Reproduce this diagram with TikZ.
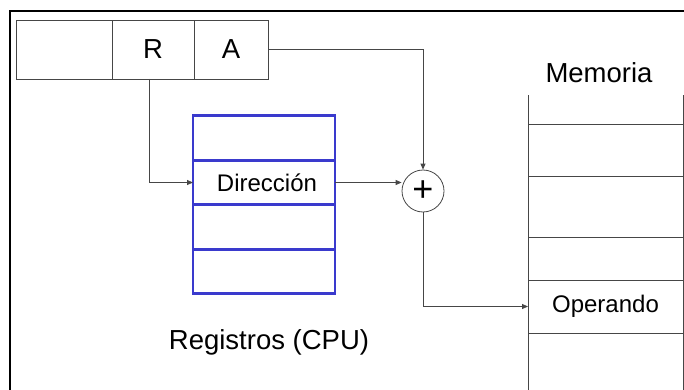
\documentclass[tikz,border=0pt]{standalone}
\usepackage{fontspec}
\setmainfont{Liberation Sans}
\usetikzlibrary{arrows.meta,positioning}
\definecolor{regblue}{RGB}{58,58,205}
\definecolor{wire}{RGB}{70,70,70}
\newcommand{\bigfont}{\fontsize{27.5}{30}\selectfont}
\newcommand{\cellfont}{\fontsize{24}{26}\selectfont}

\begin{document}
\begin{tikzpicture}[x=1pt, y=-1pt,
   node distance=0pt,
   field/.style={draw=wire, line width=0.8pt, minimum height=59pt,
      inner sep=0pt, outer sep=0pt, font=\bigfont},
   regrow/.style={draw=regblue, line width=2.6pt, minimum width=142pt,
      minimum height=44.5pt, inner sep=0pt, outer sep=0pt, font=\cellfont},
   memcell/.style={draw=wire, line width=0.8pt, minimum width=155pt,
      inner sep=0pt, outer sep=0pt, font=\cellfont},
   adder/.style={circle, draw=wire, line width=0.8pt, minimum size=42pt,
      inner sep=0pt, font=\fontsize{36}{36}\selectfont},
   conn/.style={draw=wire, line width=0.8pt},
   arrow/.style={conn, -{Triangle[length=6pt, width=5pt]}},
   title/.style={inner sep=0pt, font=\bigfont}
]
\useasboundingbox (0,0) rectangle (684,390);
\clip (0,0) rectangle (684,390);
\draw[black, line width=2pt] (10,400) -- (10,11) -- (700,11);

% instruction fields
\node[field, minimum width=96pt] (fop) at (64,49.5) {};
\node[field, minimum width=82pt, right=of fop] (fR) {R};
\node[field, minimum width=74pt, right=of fR] (fA) {A\hspace{6pt}};

% register bank
\node[regrow] (r1) at (264,138) {};
\node[regrow, below=of r1] (dir) {\hspace{6pt}Dirección};
\node[regrow, below=of dir] (r3) {};
\node[regrow, below=of r3] (r4) {};
\node[title] (regs) at (269,342) {Registros (CPU)};

% adder
\node[adder] (plus) at (423,191) {+};

% memory
\node[title] (memtitle) at (599,73) {Memoria};
\node[memcell, minimum height=52pt] (m1) at (605.5,150) {};
\node[memcell, minimum height=61pt, below=of m1] (m2) {};
\node[memcell, minimum height=43pt, below=of m2] (m3) {};
\node[memcell, minimum height=53pt, below=of m3] (oper) {Operando};
\draw[conn] (m1.north west) -- ++(0,-29);
\draw[conn] (m1.north east) -- ++(0,-29);
\draw[conn] (oper.south west) -- ++(0,70);
\draw[conn] (oper.south east) -- ++(0,70);

% connectors
\draw[arrow] (fA.east) -| (plus.north);
\draw[arrow] ([xshift=-4pt]fR.south) |- (dir.west);
\draw[arrow] (dir.east) -- (dir.east -| plus.west);
\draw[arrow] (plus.south) |- (oper.west);
\end{tikzpicture}
\end{document}
